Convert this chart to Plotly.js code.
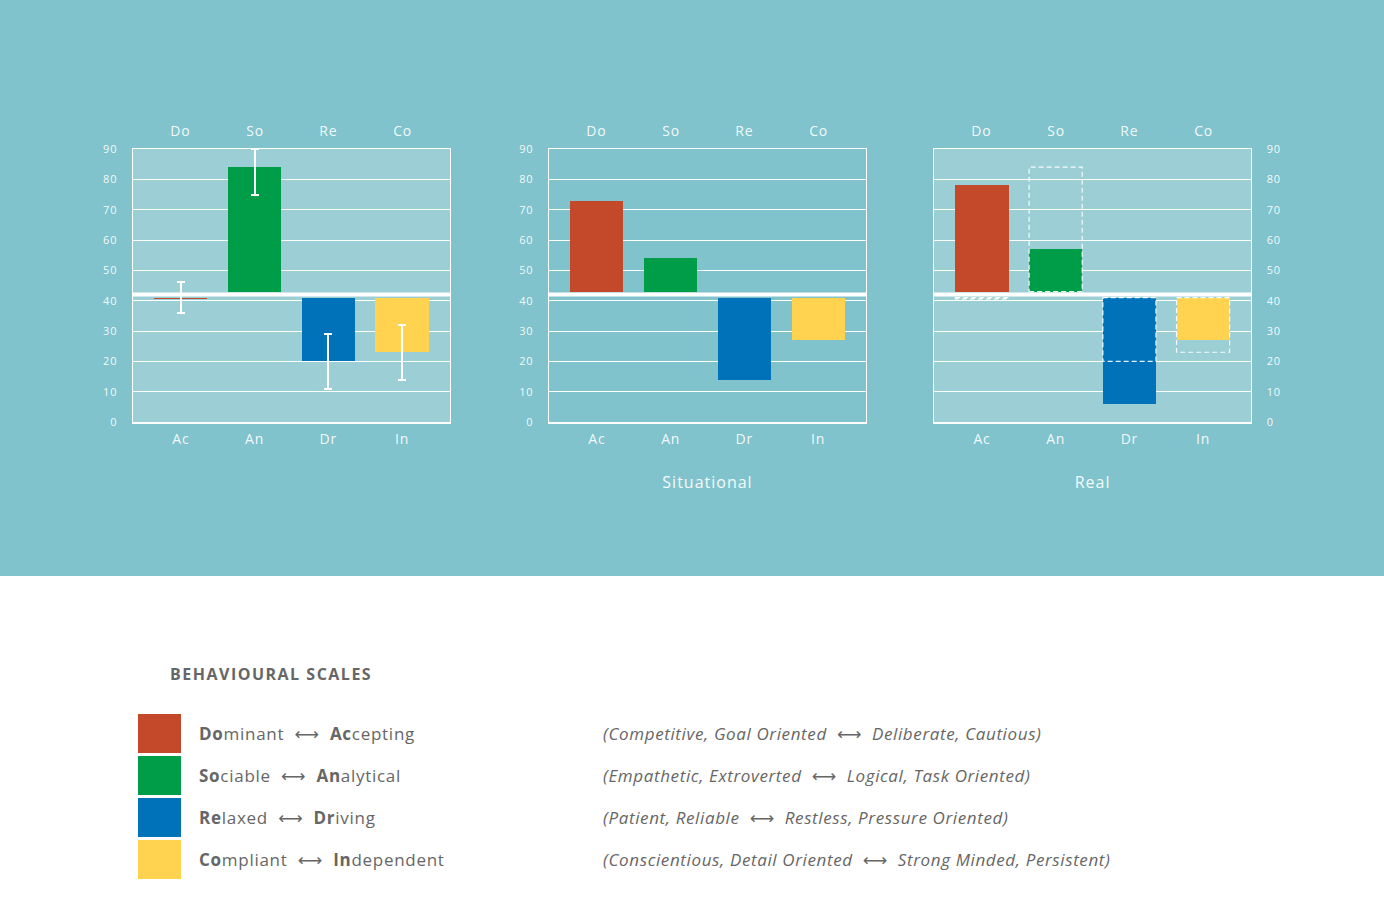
<!DOCTYPE html>
<html>
<head>
<meta charset="utf-8">
<script src="https://cdn.plot.ly/plotly-3.0.1.min.js"></script>
<style>
  html, body { margin: 0; padding: 0; overflow: hidden; background: #ffffff; }
  #band { position: absolute; left: 0; top: 0; width: 1384px; height: 576px; background: #80C3CC; }
  #chart { position: absolute; left: 0; top: 0; width: 1384px; height: 910px; }
  #chart text { letter-spacing: 0.8px; }
  #chart .g-x2title text, #chart .g-x3title text { letter-spacing: 1px; }
  #chart g.annotation[data-index="12"] text { letter-spacing: 1.5px; }
  #chart g.annotation[data-index="13"] text, #chart g.annotation[data-index="15"] text,
  #chart g.annotation[data-index="17"] text, #chart g.annotation[data-index="19"] text { letter-spacing: 0.72px; }
  #chart g.annotation[data-index="14"] text, #chart g.annotation[data-index="16"] text,
  #chart g.annotation[data-index="18"] text, #chart g.annotation[data-index="20"] text { letter-spacing: 0.62px; }
</style>
</head>
<body>
<div id="band"></div>
<div id="chart"></div>
<script>
// categories
var bottomLabels = ['Ac', 'An', 'Dr', 'In'];
var topLabels = ['Do', 'So', 'Re', 'Co'];
var barColors = ['#C4482A', '#009D48', '#0072BA', '#FFD350'];

// scores
var natural = [40.6, 84, 20, 23];
var naturalLow = [36, 75, 11, 14];
var naturalHigh = [46, 90, 29, 32];
var situational = [73, 54, 14, 27];
var real = [78, 57, 6, 27];

var yTicks = [0, 10, 20, 30, 40, 50, 60, 70, 80, 90];
var panelTitles = ['', 'Situational', 'Real'];

// legend text
var scaleNames = ['Dominant', 'Sociable', 'Relaxed', 'Compliant'];
var oppositeNames = ['Accepting', 'Analytical', 'Driving', 'Independent'];
var leftTraits = ['Competitive, Goal Oriented', 'Empathetic, Extroverted', 'Patient, Reliable', 'Conscientious, Detail Oriented'];
var rightTraits = ['Deliberate, Cautious', 'Logical, Task Oriented', 'Restless, Pressure Oriented', 'Strong Minded, Persistent'];

var MID = 42;          // thick white centre line
var W = 1384, H = 910;
var BARW = 0.72;
var XR = [-0.65, 3.65];
var tickCol = 'rgba(255,255,255,0.92)';
var FONT = 'Open Sans, sans-serif';

function baseOf(v) { return v > MID ? MID + 1 : MID - 1; }
function px(x) { return x / W; }
function py(y) { return 1 - y / H; }

function bars(scores, n, low, high) {
  var t = {
    type: 'bar',
    x: bottomLabels,
    y: scores.map(function (v) { return v - baseOf(v); }),
    base: scores.map(baseOf),
    width: BARW,
    marker: { color: barColors, line: { width: 0 } },
    xaxis: 'x' + (n === 1 ? '' : n),
    yaxis: 'y' + (n === 1 ? '' : n),
    hoverinfo: 'skip',
    showlegend: false
  };
  if (low) {
    t.error_y = {
      type: 'data', symmetric: false,
      array: scores.map(function (v, i) { return high[i] - v; }),
      arrayminus: scores.map(function (v, i) { return v - low[i]; }),
      color: '#ffffff', thickness: 2, width: 4
    };
  }
  return t;
}

var data = [
  bars(natural, 1, naturalLow, naturalHigh),
  bars(situational, 2),
  bars(real, 3)
];

var xDomains = [[0.0961, 0.3251], [0.3967, 0.6257], [0.6749, 0.9039]];
var yDomain = [1 - 422 / H, 1 - 149 / H];

var layout = {
  width: W, height: H,
  margin: { l: 0, r: 0, t: 0, b: 0 },
  paper_bgcolor: 'rgba(0,0,0,0)',
  plot_bgcolor: 'rgba(0,0,0,0)',
  font: { family: FONT, color: tickCol },
  bargap: 0,
  shapes: [],
  annotations: []
};

for (var n = 1; n <= 3; n++) {
  var sx = n === 1 ? '' : String(n);
  layout['xaxis' + sx] = {
    domain: xDomains[n - 1], anchor: 'y' + sx,
    type: 'category', range: XR,
    showline: true, mirror: true, linecolor: '#ffffff', linewidth: 1.5,
    showgrid: false, zeroline: false,
    ticks: 'outside', ticklen: 4, tickcolor: 'rgba(0,0,0,0)',
    tickfont: { size: 14, color: tickCol },
    title: { text: panelTitles[n - 1], font: { size: 16, color: tickCol }, standoff: 29 },
    fixedrange: true
  };
  layout['yaxis' + sx] = {
    domain: yDomain, anchor: 'x' + sx,
    side: n === 3 ? 'right' : 'left',
    range: [0, 90], tickvals: yTicks,
    showgrid: true, gridcolor: '#ffffff', gridwidth: 1,
    showline: true, mirror: true, linecolor: '#ffffff', linewidth: 1.5,
    zeroline: false,
    ticks: 'outside', ticklen: 12, tickcolor: 'rgba(0,0,0,0)',
    tickfont: { size: 11, color: tickCol },
    fixedrange: true
  };
  // top labels
  topLabels.forEach(function (lab, i) {
    layout.annotations.push({
      xref: 'x' + sx, yref: 'y' + sx + ' domain', x: i, y: 1,
      yanchor: 'middle', yshift: 18, showarrow: false,
      text: lab, font: { family: FONT, size: 14, color: tickCol }
    });
  });
  // lighter panel fill for the first and last chart
  if (n !== 2) {
    layout.shapes.push({
      type: 'rect', layer: 'below',
      xref: 'x' + sx + ' domain', yref: 'y' + sx + ' domain',
      x0: 0, x1: 1, y0: 0, y1: 1,
      fillcolor: '#9BCFD5', line: { width: 0 }
    });
  }
  // thick centre line
  layout.shapes.push({
    type: 'line', layer: 'above',
    xref: 'x' + sx + ' domain', yref: 'y' + sx,
    x0: 0, x1: 1, y0: MID, y1: MID,
    line: { color: '#ffffff', width: 4 }
  });
}

// dashed outlines of the first chart over the last one
natural.forEach(function (v, i) {
  layout.shapes.push({
    type: 'rect', layer: 'above', xref: 'x3', yref: 'y3',
    x0: i - BARW / 2, x1: i + BARW / 2, y0: baseOf(v), y1: v,
    line: { color: 'rgba(255,255,255,0.9)', width: 1.2, dash: '5px,3px' },
    fillcolor: 'rgba(0,0,0,0)'
  });
});

// legend block
var NB = '\u00A0';
var arrow = NB + NB + '<span style="font-family:DejaVu Sans">\u27F7</span>' + NB + NB;
var textGrey = '#666666';

layout.annotations.push({
  xref: 'paper', yref: 'paper', x: px(168), y: py(674),
  xanchor: 'left', yanchor: 'middle', align: 'left', showarrow: false,
  text: '<b>BEHAVIOURAL SCALES</b>',
  font: { family: FONT, size: 16, color: textGrey }
});

scaleNames.forEach(function (name, i) {
  var top = 714 + i * 42;
  layout.shapes.push({
    type: 'rect', xref: 'paper', yref: 'paper', layer: 'above',
    x0: px(138), x1: px(181), y0: py(top), y1: py(top + 39),
    fillcolor: barColors[i], line: { width: 0 }
  });
  var a = topLabels[i], b = bottomLabels[i];
  layout.annotations.push({
    xref: 'paper', yref: 'paper', x: px(197), y: py(top + 19),
    xanchor: 'left', yanchor: 'middle', align: 'left', showarrow: false,
    text: '<b>' + a + '</b>' + name.slice(a.length) + arrow +
          '<b>' + b + '</b>' + oppositeNames[i].slice(b.length),
    font: { family: FONT, size: 17, color: textGrey }
  });
  layout.annotations.push({
    xref: 'paper', yref: 'paper', x: px(601), y: py(top + 19),
    xanchor: 'left', yanchor: 'middle', align: 'left', showarrow: false,
    text: '<i>(' + leftTraits[i] + arrow + rightTraits[i] + ')</i>',
    font: { family: FONT, size: 17, color: textGrey }
  });
});

Plotly.newPlot('chart', data, layout, { staticPlot: true, displayModeBar: false });
</script>
</body>
</html>
